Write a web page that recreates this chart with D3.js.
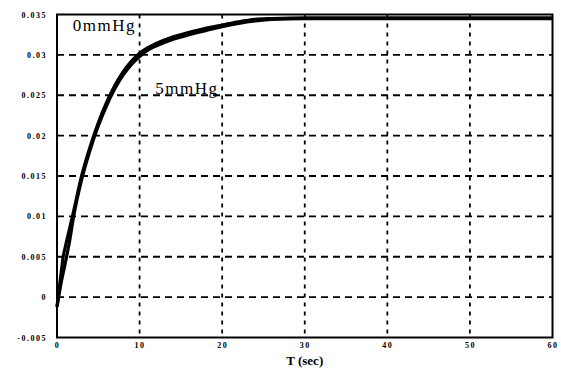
<!DOCTYPE html>
<html>
<head>
<meta charset="utf-8">
<script src="https://cdn.jsdelivr.net/npm/d3@7"></script>
<style>
  body { margin: 0; background: #fff; }
  svg { display: block; }
</style>
</head>
<body>
<div id="chart"></div>
<script>
// time axis (sec)
const time = [0, 0.2, 0.5, 0.75, 1, 1.5, 2, 3, 4, 5, 6, 7, 8, 9, 10, 11, 12, 14, 16, 18, 20, 22, 24, 26, 30, 40, 50, 60];
// 0mmHg curve (upper)
const series0 = [-0.0012, 0.0005, 0.003, 0.005, 0.0062, 0.0084, 0.0106, 0.0151, 0.0186, 0.0216, 0.0241, 0.0262, 0.0279, 0.0292, 0.0302, 0.0309, 0.0314, 0.0322, 0.0328, 0.0333, 0.0337, 0.0341, 0.0344, 0.0345, 0.0346, 0.0346, 0.0346, 0.0346];
// 5mmHg curve (lower)
const series5 = [-0.0012, 0.0, 0.0018, 0.003, 0.0042, 0.0068, 0.0099, 0.0146, 0.0182, 0.0212, 0.0237, 0.0258, 0.0275, 0.0288, 0.0298, 0.0306, 0.0311, 0.0319, 0.0325, 0.0330, 0.0335, 0.0339, 0.0342, 0.0344, 0.0345, 0.0345, 0.0345, 0.0345];

const xTicks = [0, 10, 20, 30, 40, 50, 60];
const yTicks = [-0.005, 0, 0.005, 0.01, 0.015, 0.02, 0.025, 0.03, 0.035];
const yTickLabels = ['-0.005', '0', '0.005', '0.01', '0.015', '0.02', '0.025', '0.03', '0.035'];

const W = 561, H = 369;
const margin = { top: 14.5, right: 8.5, bottom: 31.5, left: 57 };
const width = W - margin.left - margin.right;
const height = H - margin.top - margin.bottom;

const svg = d3.select('#chart').append('svg')
  .attr('width', W)
  .attr('height', H);

const g = svg.append('g')
  .attr('transform', `translate(${margin.left},${margin.top})`);

const x = d3.scaleLinear().domain([0, 60]).range([0, width]);
const y = d3.scaleLinear().domain([-0.005, 0.035]).range([height, 0]);

// grid lines
g.append('g')
  .selectAll('line')
  .data(yTicks.slice(1, -1))
  .enter().append('line')
  .attr('x1', 0).attr('x2', width)
  .attr('y1', d => y(d)).attr('y2', d => y(d))
  .attr('stroke', '#000')
  .attr('stroke-width', 1.8)
  .attr('stroke-dasharray', '7,5');

g.append('g')
  .selectAll('line')
  .data(xTicks.slice(1, -1))
  .enter().append('line')
  .attr('x1', d => x(d)).attr('x2', d => x(d))
  .attr('y1', 0).attr('y2', height)
  .attr('stroke', '#000')
  .attr('stroke-width', 1.8)
  .attr('stroke-dasharray', '4,5');

// curves
const line = d3.line()
  .x((d, i) => x(time[i]))
  .y(d => y(d))
  .curve(d3.curveMonotoneX);

[series5, series0].forEach(s => {
  g.append('path')
    .datum(s)
    .attr('d', line)
    .attr('fill', 'none')
    .attr('stroke', '#000')
    .attr('stroke-width', 3.2)
    .attr('stroke-linejoin', 'round');
});

// frame
g.append('rect')
  .attr('x', 0).attr('y', 0)
  .attr('width', width).attr('height', height)
  .attr('fill', 'none')
  .attr('stroke', '#000')
  .attr('stroke-width', 2);

// axes
const xAxis = g.append('g')
  .attr('transform', `translate(0,${height})`)
  .call(d3.axisBottom(x).tickValues(xTicks).tickSize(0).tickPadding(5));

const yAxis = g.append('g')
  .call(d3.axisLeft(y).tickValues(yTicks).tickSize(0).tickPadding(10)
    .tickFormat((d, i) => yTickLabels[i]));

[xAxis, yAxis].forEach(a => {
  a.select('.domain').remove();
  a.selectAll('text')
    .style('font-family', '"Liberation Serif", serif')
    .style('font-weight', 'bold')
    .style('font-size', '8px')
    .style('letter-spacing', '1.5px')
    .style('fill', '#000');
});

// curve labels
g.append('text')
  .attr('x', x(1.9)).attr('y', y(0.0329))
  .style('font-family', '"Liberation Serif", serif')
  .style('font-size', '17px')
  .style('letter-spacing', '1.5px')
  .text('0mmHg');

g.append('text')
  .attr('x', x(11.9)).attr('y', y(0.0252))
  .style('font-family', '"Liberation Serif", serif')
  .style('font-size', '17px')
  .style('letter-spacing', '1.5px')
  .text('5mmHg');

svg.append('text')
  .attr('x', margin.left + x(30)).attr('y', 365)
  .attr('text-anchor', 'middle')
  .style('font-family', '"Liberation Serif", serif')
  .style('font-weight', 'bold')
  .style('font-size', '13px')
  .text('T (sec)');
</script>
</body>
</html>
